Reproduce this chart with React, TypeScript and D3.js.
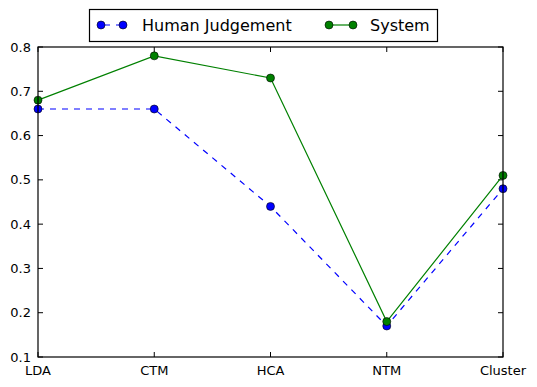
import React from 'react';
import * as d3 from 'd3';

const categories = ['LDA', 'CTM', 'HCA', 'NTM', 'Cluster'];
const humanValues = [0.66, 0.66, 0.44, 0.17, 0.48];
const systemValues = [0.68, 0.78, 0.73, 0.18, 0.51];
const yTicks = [0.1, 0.2, 0.3, 0.4, 0.5, 0.6, 0.7, 0.8];

const width = 537;
const height = 387;
const margin = { top: 47, right: 34, bottom: 30, left: 38 };
const font = 'DejaVu Sans, sans-serif';

const App = () => {
  const innerWidth = width - margin.left - margin.right;
  const innerHeight = height - margin.top - margin.bottom;

  const xScale = d3.scalePoint().domain(categories).range([0, innerWidth]);
  const yScale = d3.scaleLinear().domain([0.1, 0.8]).range([innerHeight, 0]);

  const line = d3
    .line<number>()
    .x((d, i) => xScale(categories[i]) as number)
    .y((d) => yScale(d));

  const series = [
    { name: 'Human Judgement', values: humanValues, color: '#0000ff', dash: '6,6' },
    { name: 'System', values: systemValues, color: '#008000', dash: undefined },
  ];

  return (
    <svg width={width} height={height} style={{ position: 'absolute', left: 0, top: 0 }}>
      <rect width={width} height={height} fill="#fff" />
      <defs>
        <clipPath id="plot">
          <rect x={-5} y={-5} width={innerWidth + 10} height={innerHeight + 10} />
        </clipPath>
      </defs>
      <g transform={`translate(${margin.left},${margin.top})`}>
        {yTicks.map((t) => (
          <g key={t}>
            <line x1={0} x2={5} y1={yScale(t)} y2={yScale(t)} stroke="#000" />
            <line x1={innerWidth} x2={innerWidth - 5} y1={yScale(t)} y2={yScale(t)} stroke="#000" />
            <text x={-7} y={yScale(t)} dy="0.35em" textAnchor="end" fontFamily={font} fontSize={13}>
              {t.toFixed(1)}
            </text>
          </g>
        ))}
        {categories.map((c) => (
          <g key={c}>
            <line x1={xScale(c)} x2={xScale(c)} y1={innerHeight} y2={innerHeight - 5} stroke="#000" />
            <line x1={xScale(c)} x2={xScale(c)} y1={0} y2={5} stroke="#000" />
            <text x={xScale(c)} y={innerHeight + 18} textAnchor="middle" fontFamily={font} fontSize={13}>
              {c}
            </text>
          </g>
        ))}
        <g clipPath="url(#plot)">
          {series.map((s) => (
            <g key={s.name}>
              <path d={line(s.values) || ''} fill="none" stroke={s.color} strokeWidth={1.2} strokeDasharray={s.dash} />
              {s.values.map((v, i) => (
                <circle key={i} cx={xScale(categories[i])} cy={yScale(v)} r={4} fill={s.color} stroke="#000" strokeWidth={0.6} />
              ))}
            </g>
          ))}
        </g>
        <rect x={0} y={0} width={innerWidth} height={innerHeight} fill="none" stroke="#000" strokeWidth={1.2} />
      </g>
      <g>
        <rect x={89.5} y={9.5} width={348} height={32} fill="#fff" stroke="#000" strokeWidth={1.2} />
        <line x1={101} x2={123} y1={25} y2={25} stroke="#0000ff" strokeWidth={1.2} strokeDasharray="6,6" strokeDashoffset={-3} />
        <circle cx={101} cy={25} r={4} fill="#0000ff" stroke="#000" strokeWidth={0.6} />
        <circle cx={123} cy={25} r={4} fill="#0000ff" stroke="#000" strokeWidth={0.6} />
        <text x={142} y={25} dy="0.35em" fontFamily={font} fontSize={16}>Human Judgement</text>
        <line x1={329} x2={353} y1={25} y2={25} stroke="#008000" strokeWidth={1.2} />
        <circle cx={329} cy={25} r={4} fill="#008000" stroke="#000" strokeWidth={0.6} />
        <circle cx={353} cy={25} r={4} fill="#008000" stroke="#000" strokeWidth={0.6} />
        <text x={370} y={25} dy="0.35em" fontFamily={font} fontSize={16}>System</text>
      </g>
    </svg>
  );
};

export default App;
